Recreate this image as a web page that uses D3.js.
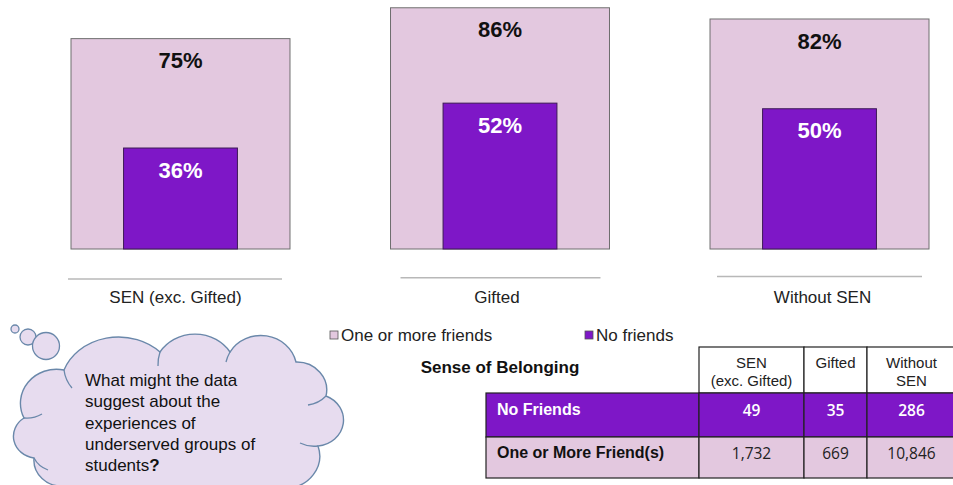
<!DOCTYPE html>
<html>
<head>
<meta charset="utf-8">
<script src="https://cdn.jsdelivr.net/npm/d3@7"></script>
<style>
  html, body { margin: 0; padding: 0; background: #ffffff; }
  svg { display: block; }
  text { font-family: "Liberation Sans", Arial, sans-serif; }
</style>
</head>
<body>
<svg id="chart" width="953" height="485"></svg>
<script>
// ---- data ----
const categories = ["SEN (exc. Gifted)", "Gifted", "Without SEN"];
const seriesNames = ["One or more friends", "No friends"];
const oneOrMoreFriendsPct = [75, 86, 82];
const noFriendsPct = [36, 52, 50];

const tableTitle = "Sense of Belonging";
const tableColumns = [["SEN", "(exc. Gifted)"], ["Gifted"], ["Without", "SEN"]];
const tableRowLabels = ["No Friends", "One or More Friend(s)"];
const countsNoFriends = [49, 35, 286];
const countsOneOrMore = [1732, 669, 10846];

const cloudLines = ["What might the data", "suggest about the", "experiences of", "underserved groups of", "students"];

// ---- styles ----
const lightFill = "#e3c8df";
const purple = "#7e17c7";

const svg = d3.select("#chart");

// ---- scales ----
const x = d3.scaleBand().domain(categories).range([71, 929]).paddingInner(0.3146).paddingOuter(0);
const y = d3.scaleLinear().domain([0, 100]).range([249, 249 - 280.5]);
const innerFrac = 0.52;

const g = svg.append("g");

// outer bars: one or more friends
g.selectAll("rect.outer").data(categories).join("rect")
  .attr("class", "outer")
  .attr("x", d => x(d))
  .attr("width", x.bandwidth())
  .attr("y", (d, i) => y(oneOrMoreFriendsPct[i]))
  .attr("height", (d, i) => y(0) - y(oneOrMoreFriendsPct[i]))
  .attr("fill", lightFill)
  .attr("stroke", "#6f6f6f")
  .attr("stroke-width", 1);

// inner bars: no friends
const iw = x.bandwidth() * innerFrac;
g.selectAll("rect.inner").data(categories).join("rect")
  .attr("class", "inner")
  .attr("x", d => x(d) + (x.bandwidth() - iw) / 2)
  .attr("width", iw)
  .attr("y", (d, i) => y(noFriendsPct[i]))
  .attr("height", (d, i) => y(0) - y(noFriendsPct[i]))
  .attr("fill", purple)
  .attr("stroke", "#3d1a55")
  .attr("stroke-width", 1);

// value labels
g.selectAll("text.outerLbl").data(categories).join("text")
  .attr("class", "outerLbl")
  .attr("x", d => x(d) + x.bandwidth() / 2)
  .attr("y", (d, i) => y(oneOrMoreFriendsPct[i]) + 22)
  .attr("dy", "0.35em")
  .attr("text-anchor", "middle")
  .attr("font-size", 22).attr("font-weight", "bold").attr("fill", "#111")
  .text((d, i) => oneOrMoreFriendsPct[i] + "%");

g.selectAll("text.innerLbl").data(categories).join("text")
  .attr("class", "innerLbl")
  .attr("x", d => x(d) + x.bandwidth() / 2)
  .attr("y", (d, i) => y(noFriendsPct[i]) + 22)
  .attr("dy", "0.35em")
  .attr("text-anchor", "middle")
  .attr("font-size", 22).attr("font-weight", "bold").attr("fill", "#ffffff")
  .text((d, i) => noFriendsPct[i] + "%");

// baseline lines + category labels (axis)
const lineOffsets = [[-3, -8], [10, -9], [7, -7]];
g.selectAll("line.base").data(categories).join("line")
  .attr("class", "base")
  .attr("x1", (d, i) => x(d) + lineOffsets[i][0])
  .attr("x2", (d, i) => x(d) + x.bandwidth() + lineOffsets[i][1])
  .attr("y1", (d, i) => 279 - i * 1.2)
  .attr("y2", (d, i) => 279 - i * 1.2)
  .attr("stroke", "#b8b8b8").attr("stroke-width", 1.5);

const axis = d3.axisBottom(x).tickSize(0).tickPadding(0);
const ax = svg.append("g").attr("transform", "translate(0,297)").call(axis);
ax.select(".domain").remove();
ax.selectAll("text")
  .attr("font-family", "Liberation Sans, Arial, sans-serif")
  .attr("font-size", 17).attr("fill", "#222")
  .attr("dy", "0.35em").attr("y", 0);
ax.selectAll(".tick").attr("transform", (d, i) => `translate(${x(d) + x.bandwidth() / 2 + [-5, -3, 3][i]},0)`);

// ---- legend ----
const legendX = [330, 585];
const leg = svg.append("g");
seriesNames.forEach((s, i) => {
  leg.append("rect").attr("x", legendX[i]).attr("y", 331).attr("width", 8).attr("height", 8)
    .attr("fill", i === 0 ? lightFill : purple).attr("stroke", "#555").attr("stroke-width", 0.8);
  leg.append("text").attr("x", legendX[i] + 11).attr("y", 335).attr("dy", "0.35em")
    .attr("font-size", 17).attr("fill", "#222").text(s);
});

// ---- cloud ----
const cloud = svg.append("g");
const cloudStroke = "#6a88aa", cloudFill = "#e7dcef";
[[15, 329, 4], [28, 337, 8], [46, 346, 13.5]].forEach(c => {
  cloud.append("circle").attr("cx", c[0]).attr("cy", c[1]).attr("r", c[2])
    .attr("fill", cloudFill).attr("stroke", cloudStroke).attr("stroke-width", 1.3);
});
const cloudPath = [
  "M 24 418",
  "A 36 34 0 0 1 64 370",
  "A 58 50 0 0 1 160 352",
  "A 42 40 0 0 1 230 352",
  "A 36 34 0 0 1 296 362",
  "A 30 28 0 0 1 326 396",
  "A 28 26 0 0 1 318 446",
  "A 34 32 0 0 1 286 488",
  "A 60 40 0 0 1 160 496",
  "A 60 40 0 0 1 64 486",
  "A 28 26 0 0 1 34 458",
  "A 24 22 0 0 1 24 418",
  "Z"
].join(" ");
cloud.append("path").attr("d", cloudPath).attr("fill", cloudFill).attr("stroke", cloudStroke).attr("stroke-width", 1.4);
// inner curls
const curl = d => cloud.append("path").attr("d", d).attr("fill", "none").attr("stroke", cloudStroke).attr("stroke-width", 1.3);
curl("M 64 370 A 34 34 0 0 0 72 388");
curl("M 160 352 A 40 40 0 0 0 158 366");
curl("M 230 352 A 40 40 0 0 0 226 362");
curl("M 326 396 A 30 28 0 0 1 308 405");
curl("M 318 446 A 30 28 0 0 1 300 443");
curl("M 24 418 A 30 30 0 0 0 42 414");
curl("M 34 458 A 26 24 0 0 0 48 470");

const ct = cloud.append("text").attr("font-size", 17).attr("fill", "#111");
cloudLines.forEach((l, i) => {
  ct.append("tspan").attr("x", 85).attr("y", 380 + i * 21.3).attr("dy", "0.35em").text(l);
  if (i === cloudLines.length - 1) ct.append("tspan").attr("font-weight", "bold").text("?");
});

// ---- table ----
const colX = [486, 699, 804, 867, 956];
const rowY = [347, 393, 437, 478];
const tg = svg.append("g");

tg.append("text").attr("x", 500).attr("y", 367).attr("dy", "0.35em").attr("text-anchor", "middle")
  .attr("font-size", 17).attr("font-weight", "bold").attr("fill", "#111").text(tableTitle);

// header cells
tableColumns.forEach((c, j) => {
  tg.append("rect").attr("x", colX[j + 1]).attr("y", rowY[0]).attr("width", colX[j + 2] - colX[j + 1])
    .attr("height", rowY[1] - rowY[0]).attr("fill", "#ffffff").attr("stroke", "#222").attr("stroke-width", 1.2);
  c.forEach((line, k) => {
    tg.append("text").attr("x", (colX[j + 1] + colX[j + 2]) / 2).attr("y", 363 + k * 18).attr("dy", "0.35em")
      .attr("text-anchor", "middle").attr("font-size", 15).attr("fill", "#222").text(line);
  });
});

const rowsData = [countsNoFriends, countsOneOrMore];
const rowFills = [purple, lightFill];
const fmt = d3.format(",");
rowsData.forEach((row, r) => {
  const y0 = rowY[r + 1], y1 = rowY[r + 2];
  tg.append("rect").attr("x", colX[0]).attr("y", y0).attr("width", colX[1] - colX[0]).attr("height", y1 - y0)
    .attr("fill", rowFills[r]).attr("stroke", "#222").attr("stroke-width", 1.2);
  tg.append("text").attr("x", 497).attr("y", r === 0 ? 409 : 452).attr("dy", "0.35em")
    .attr("font-size", 16).attr("font-weight", "bold").attr("fill", r === 0 ? "#ffffff" : "#111")
    .text(tableRowLabels[r]);
  row.forEach((v, j) => {
    tg.append("rect").attr("x", colX[j + 1]).attr("y", y0).attr("width", colX[j + 2] - colX[j + 1]).attr("height", y1 - y0)
      .attr("fill", rowFills[r]).attr("stroke", "#222").attr("stroke-width", 1.2);
    tg.append("text").attr("x", (colX[j + 1] + colX[j + 2]) / 2).attr("y", r === 0 ? 411 : 454).attr("dy", "0.35em")
      .attr("text-anchor", "middle").style("font-family", "'Open Sans', sans-serif")
      .attr("font-size", 15.5).attr("font-weight", r === 0 ? 600 : 400).attr("fill", r === 0 ? "#ffffff" : "#222")
      .text(fmt(v));
  });
});
</script>
</body>
</html>
